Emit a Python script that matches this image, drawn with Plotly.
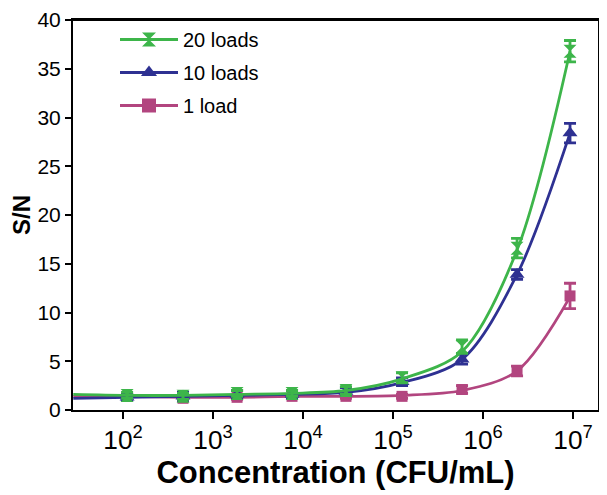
import plotly.graph_objects as go

# Data
conc = [111, 464, 1850, 7550, 30000, 126000, 585000, 2390000, 9270000]
sn_20 = [1.5, 1.4, 1.7, 1.7, 2.0, 3.3, 6.5, 16.6, 36.8]
err_20 = [0.3, 0.3, 0.3, 0.3, 0.4, 0.5, 0.7, 1.0, 1.1]
sn_10 = [1.3, 1.4, 1.6, 1.6, 1.9, 2.9, 5.2, 13.9, 28.4]
err_10 = [0.3, 0.4, 0.4, 0.4, 0.4, 0.4, 0.5, 0.5, 1.0]
sn_1 = [1.4, 1.2, 1.3, 1.4, 1.4, 1.4, 2.1, 4.0, 11.7]
err_1 = [0.2, 0.2, 0.2, 0.2, 0.2, 0.2, 0.4, 0.5, 1.3]

# Fitted curves: start at left axis edge
fit_x = [28, 111, 464, 1850, 7550, 30000, 126000, 585000, 2390000, 9270000]
fit_20 = [1.6, 1.5, 1.5, 1.6, 1.7, 2.0, 3.2, 6.0, 16.4, 36.8]
fit_10 = [1.2, 1.3, 1.4, 1.5, 1.6, 1.8, 2.8, 5.2, 13.9, 28.4]
fit_1 = [1.4, 1.4, 1.3, 1.3, 1.4, 1.4, 1.5, 2.0, 4.0, 11.6]

names = ["20 loads", "10 loads", "1 load"]
colors = ["#3db54a", "#2e3192", "#b2457f"]
symbols = ["hourglass", "triangle-up", "square"]

series = [(sn_20, err_20, fit_20), (sn_10, err_10, fit_10), (sn_1, err_1, fit_1)]

fig = go.Figure()

# draw in order 1 load first so green is on top
for i in [2, 1, 0]:
    y, e, f = series[i]
    fig.add_trace(go.Scatter(
        x=fit_x, y=f, mode="lines", line=dict(color=colors[i], width=2.8, shape="spline", smoothing=0.9),
        showlegend=False, hoverinfo="skip"))
    fig.add_trace(go.Scatter(
        x=conc, y=y, mode="markers",
        marker=dict(symbol=symbols[i], size=13 if i != 2 else 11, color=colors[i]),
        error_y=dict(type="data", array=e, visible=True, color=colors[i], thickness=2.8, width=6),
        showlegend=False))

for i in range(3):
    fig.add_trace(go.Scatter(
        x=[None], y=[None], mode="lines+markers", name=names[i], legendgroup=names[i],
        line=dict(color=colors[i], width=2.8),
        marker=dict(symbol=symbols[i], size=14, color=colors[i])))

font_family = "Arial, Liberation Sans, sans-serif"

# page body has an 8px margin, so the figure is shrunk by 8px and margins shifted
fig.update_layout(
    width=599, height=487,
    margin=dict(l=65, r=9, t=12, b=85, autoexpand=False),
    paper_bgcolor="white", plot_bgcolor="white",
    font=dict(family=font_family, color="black"),
    legend=dict(x=0.08, y=1.0, xanchor="left", yanchor="top",
                font=dict(size=20, family=font_family), bgcolor="rgba(0,0,0,0)",
                itemwidth=58, tracegroupgap=4, traceorder="grouped"),
    xaxis=dict(type="log", range=[1.444, 7.278], dtick=1, exponentformat="power",
               showline=True, linecolor="black", linewidth=2, mirror=True,
               ticks="outside", ticklen=7, tickwidth=2, tickcolor="black",
               tickfont=dict(size=21), showgrid=False, zeroline=False, automargin=False,
               ticklabeloverflow="allow",
               title=dict(text="<b>Concentration (CFU/mL)</b>", font=dict(size=31), standoff=1)),
    yaxis=dict(range=[0, 40], dtick=5, tick0=0,
               showline=True, linecolor="black", linewidth=2, mirror=True,
               ticks="outside", ticklen=6, tickwidth=2, tickcolor="black",
               tickfont=dict(size=21), showgrid=False, zeroline=False, automargin=False,
               ticklabeloverflow="allow",
               title=dict(text="<b>S/N</b>", font=dict(size=24), standoff=1)),
    shapes=[dict(type="line", xref="paper", yref="paper", x0=0, x1=1, y0=1, y1=1,
                 line=dict(color="black", width=2))],
)

fig.write_html("out.html")
